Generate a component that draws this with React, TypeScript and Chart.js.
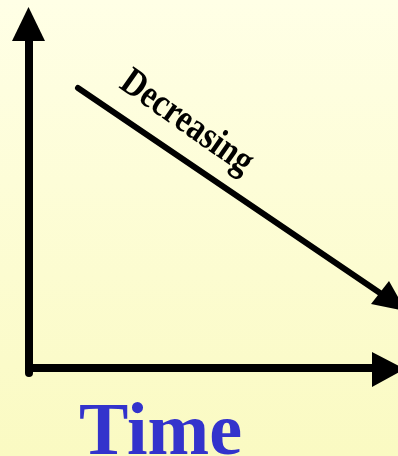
import React, { useEffect, useRef } from "react";
import { Chart, registerables } from "chart.js";

Chart.register(...registerables);

// Diagram geometry in data units (x: 0..398 left→right, y: 0..456 top→bottom)
const yAxisLine = [
  { x: 29, y: 373 },
  { x: 29, y: 38 },
];
const xAxisLine = [
  { x: 29, y: 368 },
  { x: 374, y: 368 },
];
const trendLine = [
  { x: 78, y: 88 },
  { x: 380, y: 293 },
];
const yArrowHead = [
  { x: 28.5, y: 7 },
  { x: 12, y: 41 },
  { x: 45, y: 41 },
  { x: 28.5, y: 7 },
];
const xArrowHead = [
  { x: 405, y: 369 },
  { x: 372, y: 352 },
  { x: 372, y: 387 },
  { x: 405, y: 369 },
];
const trendArrowHead = [
  { x: 406, y: 311 },
  { x: 371, y: 304 },
  { x: 389, y: 281 },
  { x: 406, y: 311 },
];
const trendLabel = "Decreasing";
const axisLabel = "Time";

const labelsPlugin = {
  id: "diagramLabels",
  afterDatasetsDraw(chart: any) {
    const { ctx, scales } = chart;
    const xs = scales.x;
    const ys = scales.y;
    ctx.save();
    // Decreasing label
    ctx.translate(xs.getPixelForValue(118), ys.getPixelForValue(87));
    ctx.rotate((35 * Math.PI) / 180);
    ctx.font = "bold 35px 'Liberation Serif', 'Times New Roman', serif";
    ctx.fillStyle = "#000000";
    ctx.textAlign = "left";
    ctx.textBaseline = "alphabetic";
    ctx.scale(0.93, 1.12);
    ctx.fillText(trendLabel, 0, 0);
    ctx.restore();

    ctx.save();
    ctx.font = "bold 74px 'Liberation Serif', 'Times New Roman', serif";
    ctx.fillStyle = "#3333CC";
    ctx.textAlign = "left";
    ctx.textBaseline = "alphabetic";
    ctx.fillText(axisLabel, xs.getPixelForValue(79), ys.getPixelForValue(454));
    ctx.restore();
  },
};

export default function App() {
  const ref = useRef<HTMLCanvasElement | null>(null);
  useEffect(() => {
    document.body.style.margin = "0";
    const canvas = ref.current;
    if (!canvas) return;
    const lineDs = (data: any[], width: number, cap: string) => ({
      data,
      showLine: true,
      borderColor: "#000000",
      borderWidth: width,
      borderCapStyle: cap,
      pointRadius: 0,
      fill: false,
    });
    const headDs = (data: any[]) => ({
      data,
      showLine: true,
      borderColor: "#000000",
      borderWidth: 0,
      backgroundColor: "#000000",
      pointRadius: 0,
      fill: "shape",
    });
    const chart = new Chart(canvas, {
      type: "scatter",
      data: {
        datasets: [
          lineDs(yAxisLine, 8, "round"),
          lineDs(xAxisLine, 8, "butt"),
          lineDs(trendLine, 6, "round"),
          headDs(yArrowHead),
          headDs(xArrowHead),
          headDs(trendArrowHead),
        ] as any,
      },
      options: {
        animation: false,
        responsive: false,
        devicePixelRatio: 1,
        layout: { padding: 0 },
        plugins: {
          legend: { display: false },
          tooltip: { enabled: false },
        },
        scales: {
          x: { type: "linear", min: 0, max: 398, display: false },
          y: { type: "linear", min: 0, max: 456, reverse: true, display: false },
        },
        elements: { line: { tension: 0 } },
      } as any,
      plugins: [labelsPlugin],
    });
    return () => chart.destroy();
  }, []);
  return (
    <div
      style={{
        width: 398,
        height: 456,
        background: "linear-gradient(to bottom, #FFFFE6 0%, #FAFAC2 100%)",
      }}
    >
      <canvas ref={ref} width={398} height={456} style={{ display: "block", width: 398, height: 456 }} />
    </div>
  );
}
